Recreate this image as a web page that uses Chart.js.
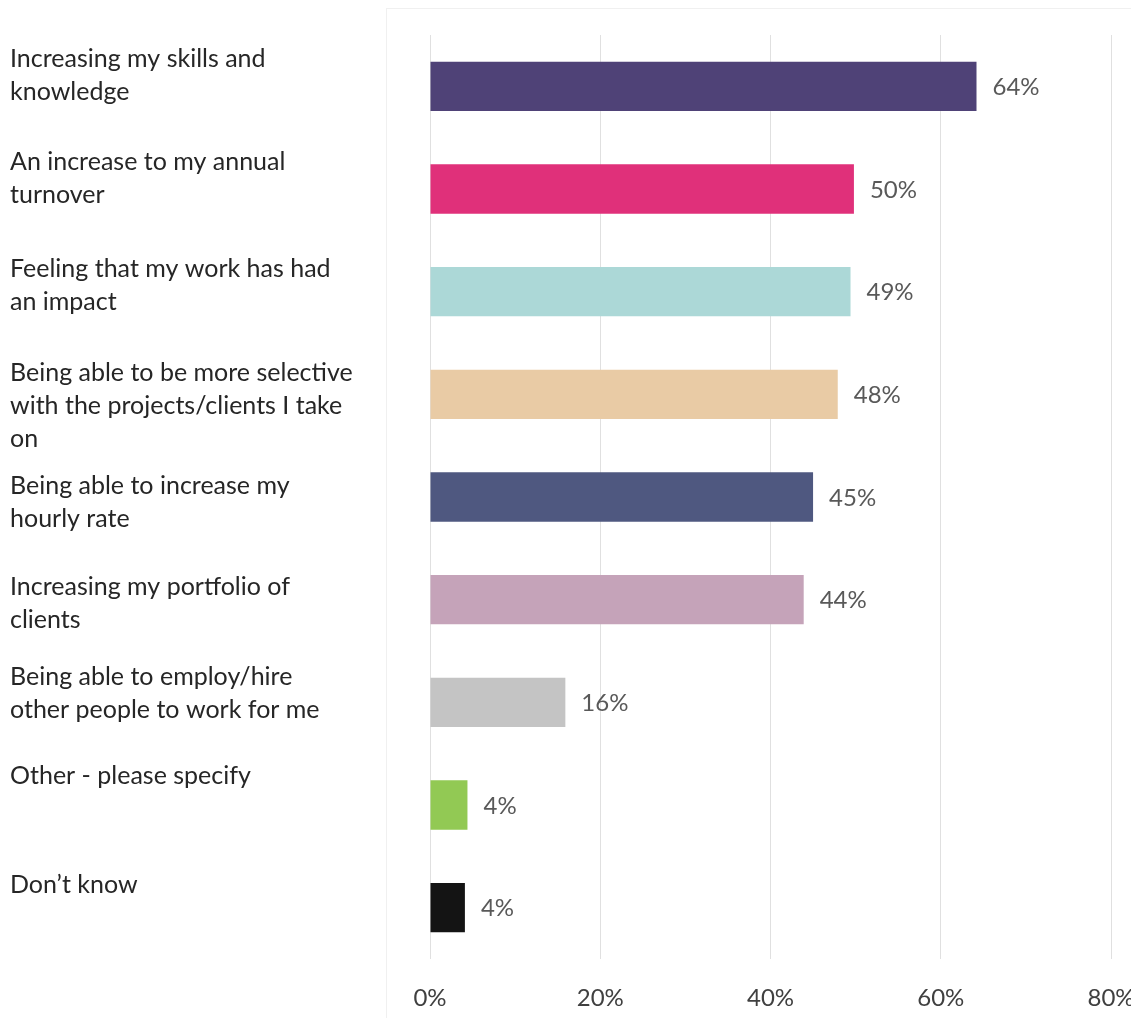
<!DOCTYPE html>
<html>
<head>
<meta charset="utf-8">
<script src="https://cdn.jsdelivr.net/npm/chart.js@4.4.1/dist/chart.umd.min.js"></script>
<style>
  html, body { margin: 0; padding: 0; background: #fff; overflow: hidden; }
  #wrap { width: 1131px; height: 1018px; }
</style>
</head>
<body>
<div id="wrap"><canvas id="chart" width="1131" height="1018"></canvas></div>
<script>
const categories = [
    ['Increasing my skills and', 'knowledge'],
    ['An increase to my annual', 'turnover'],
    ['Feeling that my work has had', 'an impact'],
    ['Being able to be more selective', 'with the projects/clients I take', 'on'],
    ['Being able to increase my', 'hourly rate'],
    ['Increasing my portfolio of', 'clients'],
    ['Being able to employ/hire', 'other people to work for me'],
    ['Other - please specify'],
    ['Don\u2019t know']
];
const values = [64.2, 49.8, 49.4, 47.9, 45.0, 43.9, 15.9, 4.4, 4.1];
const barColors = ['#4f4277', '#e0307a', '#acd8d7', '#e9cba5', '#4f5880', '#c5a3b9', '#c4c4c4', '#92c954', '#141414'];
const xTicks = [0, 20, 40, 60, 80];

const FONT = 'Lato, "Open Sans", sans-serif';
// baseline of each label's first line, measured from the top of its bar
const labelShift = [5, 6, 10, 11, 22, 20, 7, 4, 10];

// draws the frame, category labels, value labels and x tick labels
const labelsPlugin = {
    id: 'labels',
    beforeDraw(chart) {
        const ctx = chart.ctx;
        ctx.save();
        ctx.strokeStyle = '#f0f0f0';
        ctx.lineWidth = 1;
        ctx.strokeRect(386.5, 8.5, 800, 1100);
        ctx.restore();
    },
    afterDatasetsDraw(chart) {
        const ctx = chart.ctx;
        const meta = chart.getDatasetMeta(0);
        const xScale = chart.scales.x;
        ctx.save();
        meta.data.forEach((bar, i) => {
            const top = bar.y - bar.height / 2;
            ctx.font = '25px ' + FONT;
            ctx.fillStyle = '#262626';
            ctx.textAlign = 'left';
            ctx.textBaseline = 'alphabetic';
            categories[i].forEach((line, j) => {
                ctx.fillText(line, 10, top + labelShift[i] + j * 33);
            });
            ctx.font = '24px ' + FONT;
            ctx.fillStyle = '#595959';
            ctx.textBaseline = 'middle';
            ctx.fillText(Math.round(values[i]) + '%', bar.x + 16, bar.y + 1);
        });
        ctx.font = '24px ' + FONT;
        ctx.fillStyle = '#404040';
        ctx.textAlign = 'center';
        ctx.textBaseline = 'middle';
        xTicks.forEach(t => {
            ctx.fillText(t + '%', xScale.getPixelForValue(t), 998);
        });
        ctx.restore();
    }
};

new Chart(document.getElementById('chart'), {
    type: 'bar',
    data: {
        labels: categories,
        datasets: [{ data: values, backgroundColor: barColors, categoryPercentage: 1, barPercentage: 0.48 }]
    },
    options: {
        indexAxis: 'y',
        responsive: false,
        animation: false,
        layout: { padding: { left: 430, right: 20, top: 35, bottom: 59 } },
        plugins: { legend: { display: false }, tooltip: { enabled: false } },
        scales: {
            x: {
                min: 0, max: 80,
                ticks: { display: false, stepSize: 20 },
                grid: { color: '#e0e0e0', drawTicks: false },
                border: { display: false }
            },
            y: { display: false }
        }
    },
    plugins: [labelsPlugin]
});
</script>
</body>
</html>
